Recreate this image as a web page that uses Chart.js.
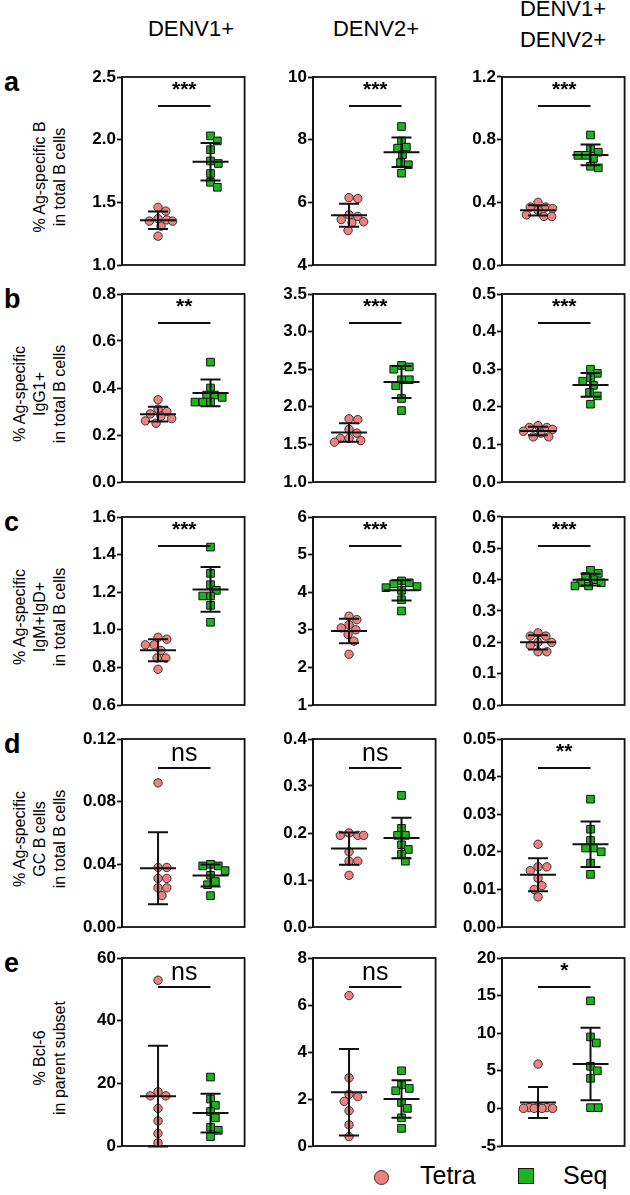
<!DOCTYPE html>
<html>
<head>
<meta charset="utf-8">
<script src="https://cdn.jsdelivr.net/npm/chart.js@4.4.0/dist/chart.umd.min.js"></script>
<style>
    body { margin: 0; width: 630px; height: 1195px; overflow: hidden; background: #fff; position: relative;
           font-family: "Liberation Sans", Arial, sans-serif; color: #000; }
    canvas { position: absolute; }
    .txt { position: absolute; white-space: nowrap; }
    .head { font-size: 22px; transform: translateX(-50%); text-align: center; line-height: 31px; }
    .rowlab { font-size: 27px; font-weight: bold; }
    .ytitle { font-size: 16px; transform: translate(-50%, -50%) rotate(-90deg); }
    .legend { font-size: 25px; }
    .dot { position: absolute; width: 13px; height: 13px; border-radius: 50%; background: #f08080; border: 1px solid #333; }
    .sq { position: absolute; width: 14px; height: 14px; background: #1db41d; border: 1px solid #111; }
</style>
</head>
<body>
<script>
// ---- data ----
const groups = ['Tetra', 'Seq'];
const columns = [['DENV1+'], ['DENV2+'], ['DENV1+', 'DENV2+']];
const rowLetters = ['a', 'b', 'c', 'd', 'e'];
const rowTitles = [
    ['% Ag-specific B', 'in total B cells'],
    ['% Ag-specific', 'IgG1+', 'in total B cells'],
    ['% Ag-specific', 'IgM+IgD+', 'in total B cells'],
    ['% Ag-specific', 'GC B cells', 'in total B cells'],
    ['% Bcl-6', 'in parent subset']
];

// axis ranges per row, one entry per column
const yMin = [[1.0, 4, 0.0], [0.0, 1.0, 0.0], [0.6, 1, 0.0], [0.00, 0.0, 0.00], [0, 0, -5]];
const yMax = [[2.5, 10, 1.2], [0.8, 3.5, 0.5], [1.6, 6, 0.6], [0.12, 0.4, 0.05], [60, 8, 20]];
const yStep = [[0.5, 2, 0.4], [0.2, 0.5, 0.1], [0.2, 1, 0.1], [0.04, 0.1, 0.01], [20, 2, 5]];
const yDecimals = [[1, 0, 1], [1, 1, 1], [1, 0, 1], [2, 1, 2], [0, 0, 0]];
const sigLabels = [['***', '***', '***'], ['**', '***', '***'], ['***', '***', '***'], ['ns', 'ns', '**'], ['ns', 'ns', '*']];

// values per mouse (n = 8), one list per column
const tetraRowA = [[1.46, 1.43, 1.36, 1.35, 1.37, 1.35, 1.31, 1.23],
                   [6.15, 6.12, 5.55, 5.60, 5.45, 5.35, 5.38, 5.10],
                   [0.40, 0.37, 0.37, 0.36, 0.35, 0.32, 0.31, 0.31]];
const seqRowA = [[2.03, 1.99, 1.92, 1.83, 1.81, 1.73, 1.66, 1.62],
                 [8.42, 7.96, 7.73, 7.76, 7.52, 7.27, 7.20, 6.93],
                 [0.83, 0.74, 0.70, 0.70, 0.72, 0.68, 0.62, 0.63]];
const tetraRowB = [[0.35, 0.31, 0.30, 0.29, 0.28, 0.27, 0.26, 0.25],
                   [1.84, 1.83, 1.70, 1.65, 1.58, 1.58, 1.55, 1.53],
                   [0.150, 0.145, 0.145, 0.140, 0.135, 0.130, 0.120, 0.120]];
const seqRowB = [[0.51, 0.40, 0.37, 0.37, 0.36, 0.34, 0.34, 0.34],
                 [2.55, 2.53, 2.50, 2.36, 2.28, 2.36, 2.11, 1.95],
                 [0.300, 0.289, 0.277, 0.268, 0.257, 0.238, 0.229, 0.207]];
const tetraRowC = [[0.96, 0.95, 0.92, 0.92, 0.89, 0.85, 0.85, 0.79],
                   [3.36, 3.27, 3.13, 3.05, 3.00, 2.88, 2.70, 2.35],
                   [0.23, 0.22, 0.22, 0.20, 0.20, 0.19, 0.17, 0.17]];
const seqRowC = [[1.44, 1.30, 1.24, 1.21, 1.18, 1.18, 1.13, 1.04],
                 [4.30, 4.25, 4.22, 4.15, 4.12, 4.05, 3.80, 3.50],
                 [0.43, 0.42, 0.41, 0.40, 0.39, 0.39, 0.38, 0.38]];
const tetraRowD = [[0.092, 0.038, 0.038, 0.031, 0.031, 0.025, 0.025, 0.020],
                   [0.200, 0.195, 0.195, 0.195, 0.160, 0.140, 0.140, 0.110],
                   [0.022, 0.016, 0.016, 0.015, 0.013, 0.011, 0.010, 0.008]];
const seqRowD = [[0.040, 0.039, 0.039, 0.036, 0.033, 0.029, 0.027, 0.020],
                 [0.280, 0.210, 0.195, 0.195, 0.175, 0.165, 0.155, 0.140],
                 [0.034, 0.026, 0.023, 0.021, 0.021, 0.020, 0.017, 0.014]];
const tetraRowE = [[52.9, 17.3, 16, 16, 12, 8, 4, 1],
                   [6.4, 2.9, 2.2, 2.1, 1.9, 1.5, 0.9, 0.4],
                   [5.9, 0.2, 0.1, 0.1, 0, 0, 0, 0]];
const seqRowE = [[22, 15, 13, 11, 9, 6, 5, 3],
                 [3.2, 2.6, 2.45, 2.35, 1.85, 1.6, 1.2, 0.75],
                 [14.3, 9.5, 8.7, 5.6, 5.0, 4.0, 0.1, 0.1]];

const tetraRows = [tetraRowA, tetraRowB, tetraRowC, tetraRowD, tetraRowE];
const seqRows = [seqRowA, seqRowB, seqRowC, seqRowD, seqRowE];

// ---- layout ----
const FONT = '"Liberation Sans", Arial, sans-serif';
const PLOT_W = 126, PLOT_H = 188, AXIS_W = 60, PAD = 12;
const colLeft = [122, 313, 502];
const rowTop = [77, 294, 517, 739, 958];
const groupPos = [0.294, 0.722];
const TETRA_FILL = '#f08080';
const SEQ_FILL = '#1db41d';
const INK = '#111';

Chart.defaults.font.family = FONT;

function mean(a) { return a.reduce((s, v) => s + v, 0) / a.length; }
function sd(a) {
    const m = mean(a);
    return Math.sqrt(a.reduce((s, v) => s + (v - m) * (v - m), 0) / (a.length - 1));
}

// simple beeswarm: pixel offsets so markers do not sit on top of each other
function swarm(values, lo, hi, diam, maxOff) {
    const order = values.map((v, i) => i).sort((a, b) => values[b] - values[a]);
    const cands = [];
    for (let c = 0; c <= maxOff; c++) { cands.push(c); if (c) cands.push(-c); }
    const placed = [];
    const offsets = new Array(values.length).fill(0);
    order.forEach(i => {
        const y = (values[i] - lo) / (hi - lo) * PLOT_H;
        let best = 0, bestD = -1;
        for (const c of cands) {
            let d = Infinity;
            placed.forEach(p => { d = Math.min(d, Math.hypot(p.x - c, p.y - y)); });
            if (d >= diam) { best = c; break; }
            if (d > bestD) { bestD = d; best = c; }
        }
        placed.push({ x: best, y: y });
        offsets[i] = best;
    });
    return offsets;
}

// frame, mean +/- SD bars and the significance bar of one panel
function decorPlugin(tetra, seq, sig) {
    return {
        id: 'decor',
        beforeDatasetsDraw(chart) {
            const { ctx, chartArea: a } = chart;
            ctx.save();
            ctx.strokeStyle = INK;
            ctx.lineWidth = 1.8;
            ctx.strokeRect(a.left, a.top, a.right - a.left, a.bottom - a.top);
            ctx.restore();
        },
        afterDatasetsDraw(chart) {
            const { ctx, chartArea: a, scales } = chart;
            ctx.save();
            ctx.strokeStyle = INK;
            ctx.lineWidth = 2;
            [tetra, seq].forEach((vals, g) => {
                const m = mean(vals), s = sd(vals);
                const px = scales.x.getPixelForValue(groupPos[g]);
                const yM = scales.y.getPixelForValue(m);
                const yT = scales.y.getPixelForValue(m + s);
                const yB = scales.y.getPixelForValue(m - s);
                ctx.beginPath();
                ctx.moveTo(px, yT); ctx.lineTo(px, yB);
                ctx.moveTo(px - 10, yT); ctx.lineTo(px + 10, yT);
                ctx.moveTo(px - 10, yB); ctx.lineTo(px + 10, yB);
                ctx.moveTo(px - 18, yM); ctx.lineTo(px + 18, yM);
                ctx.stroke();
            });
            const x0 = scales.x.getPixelForValue(groupPos[0]);
            const x1 = scales.x.getPixelForValue(groupPos[1]);
            const ys = a.top + 29;
            ctx.beginPath();
            ctx.moveTo(x0, ys); ctx.lineTo(x1, ys);
            ctx.stroke();
            ctx.fillStyle = '#000';
            ctx.textAlign = 'center';
            ctx.textBaseline = 'alphabetic';
            if (sig === 'ns') {
                ctx.font = '25px ' + FONT;
                ctx.fillText(sig, (x0 + x1) / 2, a.top + 22);
            } else {
                ctx.font = 'bold 21px ' + FONT;
                ctx.fillText(sig, (x0 + x1) / 2, a.top + 19);
            }
            ctx.restore();
        }
    };
}

function makePanel(r, c) {
    const tetra = tetraRows[r][c];
    const seq = seqRows[r][c];
    const lo = yMin[r][c], hi = yMax[r][c], step = yStep[r][c], dec = yDecimals[r][c];

    const tOff = swarm(tetra, lo, hi, 8.5, 15);
    const sOff = swarm(seq, lo, hi, 8, 16);

    const canvas = document.createElement('canvas');
    canvas.width = AXIS_W + PLOT_W + 3;
    canvas.height = PLOT_H + 2 * PAD;
    canvas.style.left = (colLeft[c] - AXIS_W) + 'px';
    canvas.style.top = (rowTop[r] - PAD) + 'px';
    document.body.appendChild(canvas);

    new Chart(canvas, {
        type: 'scatter',
        data: {
            datasets: [
                {
                    label: groups[0],
                    data: tetra.map((v, i) => ({ x: groupPos[0] + tOff[i] / PLOT_W, y: v })),
                    pointStyle: 'circle',
                    pointRadius: 4.2,
                    backgroundColor: TETRA_FILL,
                    borderColor: '#333',
                    borderWidth: 1
                },
                {
                    label: groups[1],
                    data: seq.map((v, i) => ({ x: groupPos[1] + sOff[i] / PLOT_W, y: v })),
                    pointStyle: 'rect',
                    pointRadius: 5.4,
                    backgroundColor: SEQ_FILL,
                    borderColor: INK,
                    borderWidth: 1
                }
            ]
        },
        options: {
            responsive: false,
            animation: false,
            events: [],
            layout: { padding: { top: PAD, bottom: PAD, left: 0, right: 3 } },
            plugins: { legend: { display: false }, tooltip: { enabled: false } },
            scales: {
                x: { type: 'linear', min: 0, max: 1, display: false },
                y: {
                    min: lo,
                    max: hi,
                    afterFit: function(scale) { scale.width = AXIS_W; },
                    afterBuildTicks: function(scale) {
                        const n = Math.round((hi - lo) / step);
                        const t = [];
                        for (let i = 0; i <= n; i++) t.push({ value: lo + i * step });
                        scale.ticks = t;
                    },
                    ticks: {
                        color: '#000',
                        padding: 1,
                        font: { size: 17, weight: 'bold' },
                        callback: function(v) { return Number(v).toFixed(dec); }
                    },
                    grid: {
                        drawOnChartArea: false,
                        drawTicks: true,
                        tickLength: 5,
                        tickColor: INK,
                        tickWidth: 1.8
                    },
                    border: { display: true, color: INK, width: 1.8 }
                }
            }
        },
        plugins: [decorPlugin(tetra, seq, sigLabels[r][c])]
    });
}

function addText(cls, text, style) {
    const d = document.createElement('div');
    d.className = 'txt ' + cls;
    d.innerHTML = text;
    Object.assign(d.style, style);
    document.body.appendChild(d);
    return d;
}

// column headers
const headCenter = [191, 376, 563];
columns.forEach((lines, c) => {
    const top = lines.length === 1 ? 13 : -7;
    addText('head', lines.join('<br>'), { left: headCenter[c] + 'px', top: top + 'px' });
});

// row letters and y titles
rowLetters.forEach((l, r) => {
    addText('rowlab', l, { left: '4px', top: (rowTop[r] - 10) + 'px' });
    const lines = rowTitles[r];
    const cy = rowTop[r] + PLOT_H / 2 + 6;
    lines.forEach((t, i) => {
        const cx = 60 - (lines.length - 1 - i) * 20;
        addText('ytitle', t, { left: cx + 'px', top: cy + 'px' });
    });
});

for (let r = 0; r < 5; r++) {
    for (let c = 0; c < 3; c++) makePanel(r, c);
}

// legend
const dot = document.createElement('div');
dot.className = 'dot';
Object.assign(dot.style, { left: '374px', top: '1170px' });
document.body.appendChild(dot);
addText('legend', groups[0], { left: '420px', top: '1161px' });
const sq = document.createElement('div');
sq.className = 'sq';
Object.assign(sq.style, { left: '518px', top: '1168px' });
document.body.appendChild(sq);
addText('legend', groups[1], { left: '563px', top: '1161px' });
</script>
</body>
</html>
